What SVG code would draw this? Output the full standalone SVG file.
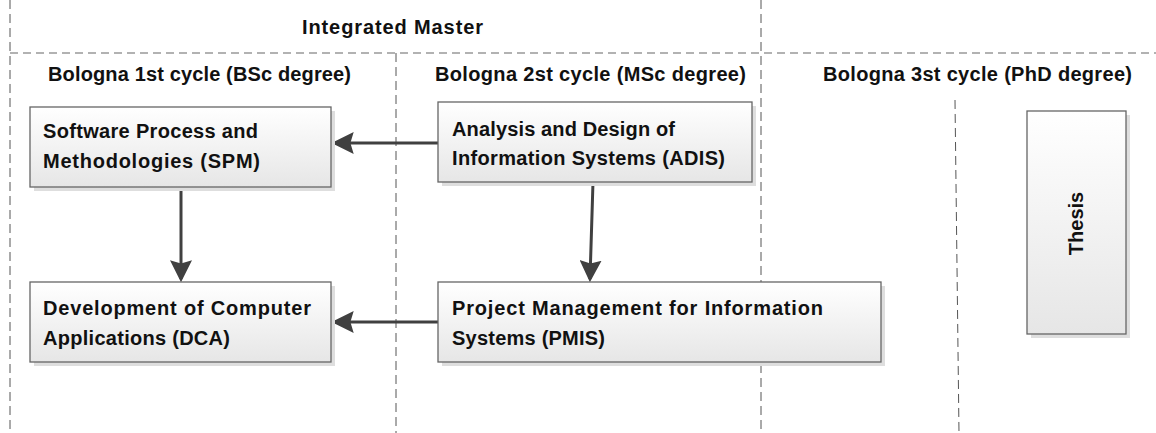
<svg xmlns="http://www.w3.org/2000/svg" width="1156" height="433" viewBox="0 0 1156 433">
<style>
  .t { font-family: "Liberation Sans", Arial, sans-serif; font-weight: bold; font-size: 20px; fill: #111; }
  .box { stroke: #666; stroke-width: 1.3; fill: url(#g); }
  .sh { fill: #dedede; }
  .vd { stroke: #555; stroke-width: 1; stroke-dasharray: 9 5; fill: none; }
  .hd { stroke: #999; stroke-width: 1.6; stroke-dasharray: 8 5; fill: none; }
  .ar { stroke: #404040; stroke-width: 3; fill: none; marker-end: url(#ah); }
</style>
<defs>
  <linearGradient id="g" x1="0" y1="0" x2="0" y2="1">
    <stop offset="0" stop-color="#ffffff"/>
    <stop offset="1" stop-color="#e6e6e6"/>
  </linearGradient>
  <marker id="ah" markerUnits="userSpaceOnUse" markerWidth="22" markerHeight="22" viewBox="0 0 20 20" refX="17" refY="10" orient="auto">
    <path d="M0,0 L20,10 L0,20 L3,10 Z" fill="#404040"/>
  </marker>
</defs>
<rect width="1156" height="433" fill="#fff"/>
<g id="lanes">
  <line class="vd" x1="10" y1="0" x2="10" y2="430"/>
  <line class="hd" x1="10" y1="53" x2="1156" y2="53"/>
  <line class="vd" x1="396" y1="53" x2="396" y2="433"/>
  <line class="vd" x1="761" y1="0" x2="761" y2="433"/>
  <line class="vd" x1="955" y1="100" x2="959" y2="433"/>
  <text class="t" x="302" y="34" textLength="181">Integrated Master</text>
  <text class="t" x="48" y="81" textLength="303">Bologna 1st cycle (BSc degree)</text>
  <text class="t" x="435" y="81" textLength="311">Bologna 2st cycle (MSc degree)</text>
  <text class="t" x="823" y="81" textLength="309">Bologna 3st cycle (PhD degree)</text>
</g>
<g id="connectors">
  <line class="ar" x1="438" y1="143" x2="335" y2="143"/>
  <line class="ar" x1="181" y1="187" x2="181" y2="279"/>
  <line class="ar" x1="593" y1="182" x2="590" y2="279"/>
  <line class="ar" x1="438" y1="322" x2="335" y2="322"/>
</g>
<g id="spm">
  <rect class="sh" x="34" y="111" width="301" height="80"/>
  <rect class="box" x="30" y="107" width="301" height="80"/>
  <text class="t" x="43" y="138" textLength="215">Software Process and</text>
  <text class="t" x="43" y="168" textLength="217">Methodologies (SPM)</text>
</g>
<g id="adis">
  <rect class="sh" x="442" y="106" width="314" height="80"/>
  <rect class="box" x="438" y="102" width="314" height="80"/>
  <text class="t" x="452" y="136" textLength="223">Analysis and Design of</text>
  <text class="t" x="452" y="165" textLength="273">Information Systems (ADIS)</text>
</g>
<g id="dca">
  <rect class="sh" x="34" y="286" width="301" height="80"/>
  <rect class="box" x="30" y="282" width="301" height="80"/>
  <text class="t" x="43" y="315" textLength="268">Development of Computer</text>
  <text class="t" x="43" y="345" textLength="187">Applications (DCA)</text>
</g>
<g id="pmis">
  <rect class="sh" x="442" y="286" width="443" height="80"/>
  <rect class="box" x="438" y="282" width="443" height="80"/>
  <text class="t" x="452" y="315" textLength="371">Project Management for Information</text>
  <text class="t" x="452" y="345" textLength="153">Systems (PMIS)</text>
</g>
<g id="thesis">
  <rect class="sh" x="1031" y="115" width="99" height="223"/>
  <rect class="box" x="1027" y="111" width="99" height="223"/>
  <text class="t" x="0" y="0" text-anchor="middle" transform="translate(1083,223.5) rotate(-90)">Thesis</text>
</g>
</svg>
